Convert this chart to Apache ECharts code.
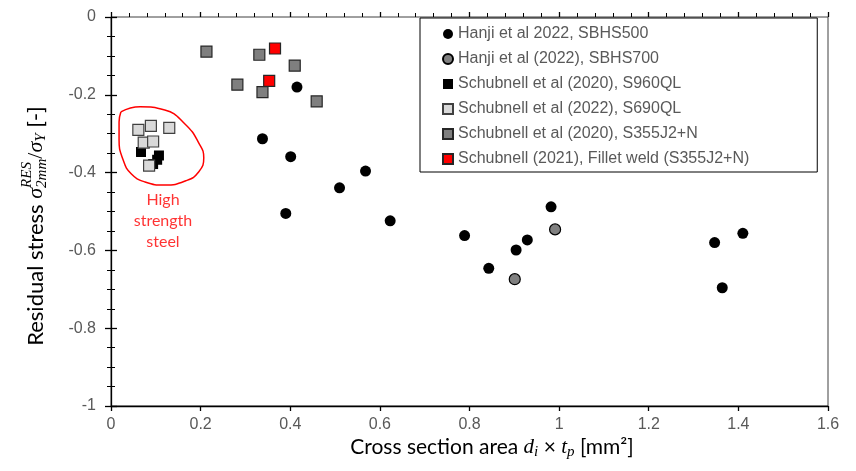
<!DOCTYPE html>
<html><head><meta charset="utf-8">
<script src="https://cdn.jsdelivr.net/npm/echarts@6/dist/echarts.min.js"></script>
<style>html,body{margin:0;padding:0;background:#fff}#c{width:856px;height:471px}</style>
</head><body><div id="c"></div>
<script>
// ---- data ----
const xTickValues = [0, 0.2, 0.4, 0.6, 0.8, 1, 1.2, 1.4, 1.6];
const yTickValues = [-1, -0.8, -0.6, -0.4, -0.2, 0];
const seriesNames = [
  'Hanji et al 2022, SBHS500',
  'Hanji et al (2022), SBHS700',
  'Schubnell et al (2020), S960QL',
  'Schubnell et al (2022), S690QL',
  'Schubnell et al (2020), S355J2+N',
  'Schubnell (2021), Fillet weld (S355J2+N)'
];
const hanjiSBHS500 = [[0.338,-0.313],[0.401,-0.359],[0.415,-0.180],[0.390,-0.505],[0.510,-0.439],[0.568,-0.396],[0.623,-0.524],[0.789,-0.562],[0.982,-0.488],[0.929,-0.573],[0.904,-0.599],[0.843,-0.646],[1.347,-0.580],[1.410,-0.556],[1.364,-0.696]];
const hanjiSBHS700 = [[0.991,-0.546],[0.901,-0.674]];
const schubnellS960QL = [[0.067,-0.347],[0.107,-0.356],[0.103,-0.367],[0.094,-0.378]];
const schubnellS690QL = [[0.061,-0.290],[0.089,-0.280],[0.130,-0.285],[0.073,-0.323],[0.094,-0.320],[0.085,-0.382]];
const schubnellS355 = [[0.213,-0.089],[0.331,-0.097],[0.410,-0.125],[0.282,-0.174],[0.338,-0.193],[0.459,-0.217]];
const schubnellFillet = [[0.366,-0.081],[0.353,-0.164]];
// annotation (data units)
const highStrengthOutline = [[0.022,-0.244],[0.065,-0.231],[0.120,-0.239],[0.165,-0.275],[0.196,-0.324],[0.207,-0.362],[0.196,-0.398],[0.167,-0.421],[0.120,-0.432],[0.076,-0.424],[0.045,-0.403],[0.027,-0.367],[0.018,-0.316],[0.018,-0.270],[0.022,-0.244]];
const highStrengthLabelPos = [0.116, -0.524];
const highStrengthLabel = 'High\nstrength\nsteel';

// ---- helpers for math-like axis titles ----
const ctx = document.createElement('canvas').getContext('2d');
function fontStr(f){ return (f.style||'normal') + ' ' + f.size + 'px ' + f.family; }
function measure(t, f){ ctx.font = fontStr(f); return ctx.measureText(t).width; }
function buildTitle(pieces){
  const items = []; let x = 0;
  pieces.forEach(p => {
    if (p.stack) {
      let w = 0;
      p.stack.forEach(s => { items.push({text:s.text, f:s.f, x:x, dy:s.dy}); w = Math.max(w, measure(s.text, s.f)); });
      x += w;
    } else {
      items.push({text:p.text, f:p.f, x:x, dy:p.dy||0});
      x += measure(p.text, p.f);
    }
  });
  const W = x;
  return items.map(it => ({
    type:'text',
    style:{
      text: it.text, x: it.x - W/2, y: it.dy,
      font: fontStr(it.f), fontSize: it.f.size, fontFamily: it.f.family, fontStyle: it.f.style||'normal',
      fill:'#000', align:'left', verticalAlign:'middle', textAlign:'left', textVerticalAlign:'middle'
    }
  }));
}
function fonts(s){
  return {
    main:{size:s, family:'Lato'},
    math:{size:s, family:'"Liberation Serif"', style:'italic'},
    up:{size:s, family:'"Liberation Serif"'},
    small:{size:Math.round(s*0.7), family:'"Liberation Serif"', style:'italic'}
  };
}
const fx = fonts(21), fy = fonts(22);
const xTitle = buildTitle([
  {text:'Cross section area ', f:fx.main},
  {text:'d', f:fx.math}, {text:'i', f:fx.small, dy:5},
  {text:' × ', f:fx.main},
  {text:'t', f:fx.math}, {text:'p', f:fx.small, dy:5},
  {text:' [mm²]', f:fx.main}
]);
const yTitle = buildTitle([
  {text:'Residual stress ', f:fy.main},
  {text:'σ', f:fy.math},
  {stack:[{text:'RES', f:fy.small, dy:-9},{text:'2mm', f:fy.small, dy:6}]},
  {text:'/', f:fy.up},
  {text:'σ', f:fy.math}, {text:'Y', f:fy.small, dy:5},
  {text:' [-]', f:fy.main}
]);

const chart = echarts.init(document.getElementById('c'), null, {renderer:'canvas'});
const labelStyle = {color:'#595959', fontSize:16, fontFamily:'"Liberation Sans"'};
const r6 = v => Math.round(v*1e6)/1e6;
const xMin = xTickValues[0], xMax = xTickValues[xTickValues.length-1], xStep = r6(xTickValues[1]-xTickValues[0]);
const yMin = yTickValues[0], yMax = yTickValues[yTickValues.length-1], yStep = r6(yTickValues[1]-yTickValues[0]);
const fmt = v => String(r6(v));

function sq(name, data, fill, border, size){
  return {name, type:'scatter', data, symbol:'rect', symbolSize:size,
    itemStyle:{color:fill, borderColor:border, borderWidth:border?1.2:0, opacity:1}, emphasis:{disabled:true}};
}
const option = {
  animation:false,
  backgroundColor:'#fff',
  grid:{left:111, right:28, top:17, bottom:65, show:true, borderColor:'#404040', borderWidth:1,
        backgroundColor:'transparent', containLabel:false, outerBoundsMode:'none'},
  xAxis:[{
    type:'value', min:xMin, max:xMax, interval:xStep, position:'bottom',
    axisLine:{show:true, onZero:false, lineStyle:{color:'#000', width:1.3}},
    axisTick:{show:true, inside:false, length:5, lineStyle:{color:'#000', width:1.3}},
    minorTick:{show:false},
    axisLabel:{...labelStyle, margin:11, formatter:fmt},
    splitLine:{show:false}
  },{
    type:'value', min:xMin, max:xMax, interval:xStep, position:'bottom',
    axisLine:{show:false},
    axisTick:{show:true, inside:true, length:5, lineStyle:{color:'#000', width:1.3}},
    minorTick:{show:true, splitNumber:5, length:4, lineStyle:{color:'#000', width:1}},
    axisLabel:{show:false}, splitLine:{show:false}
  }],
  yAxis:[{
    type:'value', min:yMin, max:yMax, interval:yStep, position:'left',
    axisLine:{show:true, onZero:false, lineStyle:{color:'#000', width:1.3}},
    axisTick:{show:true, inside:false, length:6, lineStyle:{color:'#000', width:1.3}},
    minorTick:{show:true, splitNumber:4, length:4, lineStyle:{color:'#000', width:1}},
    axisLabel:{...labelStyle, margin:15, formatter:fmt},
    splitLine:{show:false}
  },{
    type:'value', min:yMin, max:yMax, interval:yStep, position:'left',
    axisLine:{show:false},
    axisTick:{show:true, inside:true, length:6, lineStyle:{color:'#000', width:1.3}},
    minorTick:{show:true, splitNumber:4, length:4, lineStyle:{color:'#000', width:1}},
    axisLabel:{show:false}, splitLine:{show:false}
  }],
  legend:{
    orient:'vertical', left:420, top:18, data:seriesNames,
    itemWidth:10, itemHeight:10, itemGap:9,
    padding:[8, 68, 5, 22],
    backgroundColor:'#fff', borderColor:'#000', borderWidth:1,
    textStyle:{color:'#595959', fontSize:16, fontFamily:'"Liberation Sans"'},
    selectedMode:false
  },
  graphic:[
    {type:'group', x:492, y:447, children:xTitle},
    {type:'group', x:36, y:226, rotation:Math.PI/2, children:yTitle}
  ],
  series:[
    {type:'line', data:highStrengthOutline, smooth:0.5, symbol:'none', silent:true,
     lineStyle:{color:'#ff0000', width:1.5}, z:1},
    {type:'scatter', data:[highStrengthLabelPos], symbolSize:0, silent:true,
     label:{show:true, position:'inside', formatter:highStrengthLabel, color:'#ff0000', fontSize:16, lineHeight:21, fontFamily:'Lato'}},
    {name:seriesNames[0], type:'scatter', data:hanjiSBHS500, symbol:'circle', symbolSize:11,
     itemStyle:{color:'#000', opacity:1}, emphasis:{disabled:true}},
    {name:seriesNames[1], type:'scatter', data:hanjiSBHS700, symbol:'circle', symbolSize:11,
     itemStyle:{color:'#808080', borderColor:'#000', borderWidth:1.2, opacity:1}, emphasis:{disabled:true}},
    sq(seriesNames[2], schubnellS960QL, '#000', null, 10),
    sq(seriesNames[3], schubnellS690QL, '#d9d9d9', '#404040', 11),
    sq(seriesNames[4], schubnellS355, '#7f7f7f', '#262626', 11),
    sq(seriesNames[5], schubnellFillet, '#ff0000', '#262626', 11)
  ]
};
chart.setOption(option);
</script></body></html>
